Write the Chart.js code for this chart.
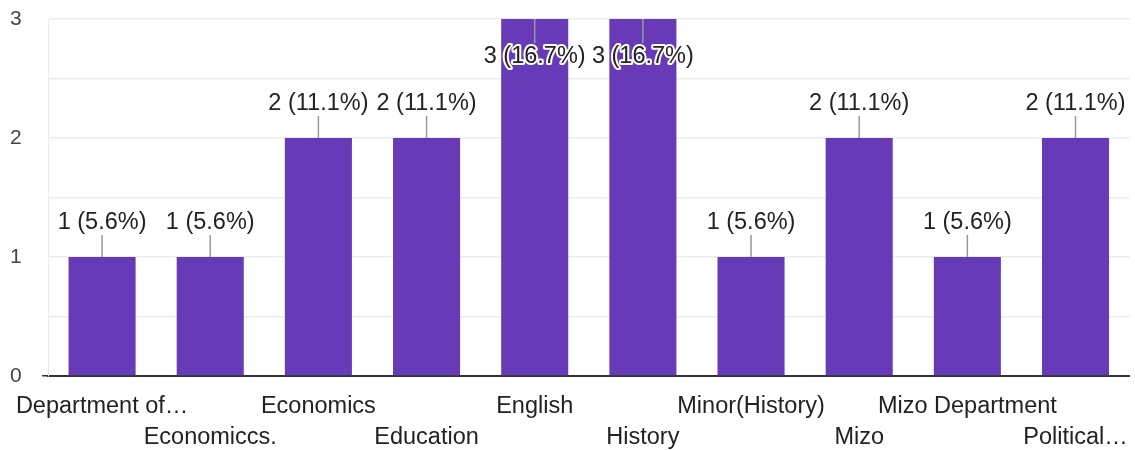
<!DOCTYPE html>
<html>
<head>
<meta charset="utf-8">
<script src="https://cdn.jsdelivr.net/npm/chart.js@4"></script>
<style>
  html, body { margin: 0; padding: 0; background: #fff; }
  #wrap { width: 1135px; height: 450px; }
</style>
</head>
<body>
<div id="wrap"><canvas id="deptChart"></canvas></div>
<script>
const departments = ['Department of…', 'Economiccs.', 'Economics', 'Education', 'English',
  'History', 'Minor(History)', 'Mizo', 'Mizo Department', 'Political…'];
const counts = [1, 1, 2, 2, 3, 3, 1, 2, 1, 2];
const percents = ['5.6', '5.6', '11.1', '11.1', '16.7', '16.7', '5.6', '11.1', '5.6', '11.1'];
const yTicks = [0, 1, 2, 3];

const FONT = '"Liberation Sans", Arial, sans-serif';

// value labels with leader lines, google-forms style
const barLabels = {
  id: 'barLabels',
  afterDatasetsDraw(chart) {
    const c = chart.ctx;
    const meta = chart.getDatasetMeta(0);
    c.save();
    c.font = '23.5px ' + FONT;
    c.textAlign = 'center';
    c.textBaseline = 'middle';
    meta.data.forEach((bar, i) => {
      const txt = counts[i] + ' (' + percents[i] + '%)';
      let lineEnd, textY;
      if (bar.y - 36 < chart.chartArea.top) {
        lineEnd = bar.y + 24;
        textY = bar.y + 38;
      } else {
        lineEnd = bar.y - 22;
        textY = bar.y - 34;
      }
      c.strokeStyle = '#999';
      c.lineWidth = 1.5;
      c.beginPath();
      c.moveTo(bar.x, bar.y);
      c.lineTo(bar.x, lineEnd);
      c.stroke();
      c.strokeStyle = '#fff';
      c.lineWidth = 4;
      c.lineJoin = 'round';
      c.strokeText(txt, bar.x, textY);
      c.fillStyle = '#222';
      c.fillText(txt, bar.x, textY);
    });
    c.restore();
  }
};

const ctx = document.getElementById('deptChart').getContext('2d');
const deptChart = new Chart(ctx, {
  type: 'bar',
  data: {
    labels: departments,
    datasets: [{
      data: counts,
      backgroundColor: '#673ab7',
      categoryPercentage: 1,
      barPercentage: 0.62,
    }]
  },
  options: {
    responsive: true,
    maintainAspectRatio: false,
    animation: false,
    layout: { padding: { top: 19, right: 5, left: 10, bottom: 0 } },
    plugins: {
      legend: { display: false },
      tooltip: { enabled: false },
    },
    scales: {
      x: {
        afterFit: (scale) => { scale.height = 74; },
        grid: { display: false },
        border: { display: true, color: '#333', width: 2 },
        ticks: {
          autoSkip: false,
          maxRotation: 0,
          padding: 7,
          color: '#222',
          font: { family: FONT, size: 23.5, lineHeight: 1.32 },
          callback: (v, i) => i % 2 === 0 ? [departments[i], ''] : ['', departments[i]],
        },
      },
      y: {
        min: 0,
        max: 3,
        afterFit: (scale) => { scale.width = 38; },
        border: { display: true, color: '#ebebeb', width: 1 },
        grid: {
          color: (c) => c.tick && c.tick.value === 0 ? 'rgba(0,0,0,0)' : '#ebebeb',
          tickColor: (c) => c.tick && c.tick.value === 0 ? '#333' : 'rgba(0,0,0,0)',
          tickLength: 6,
          lineWidth: 1.5,
        },
        ticks: {
          stepSize: 0.5,
          crossAlign: 'far',
          padding: 4,
          color: '#444',
          font: { family: FONT, size: 21 },
          callback: (v) => yTicks.includes(v) ? String(v) : '',
        },
      },
    },
  },
  plugins: [barLabels],
});
</script>
</body>
</html>
